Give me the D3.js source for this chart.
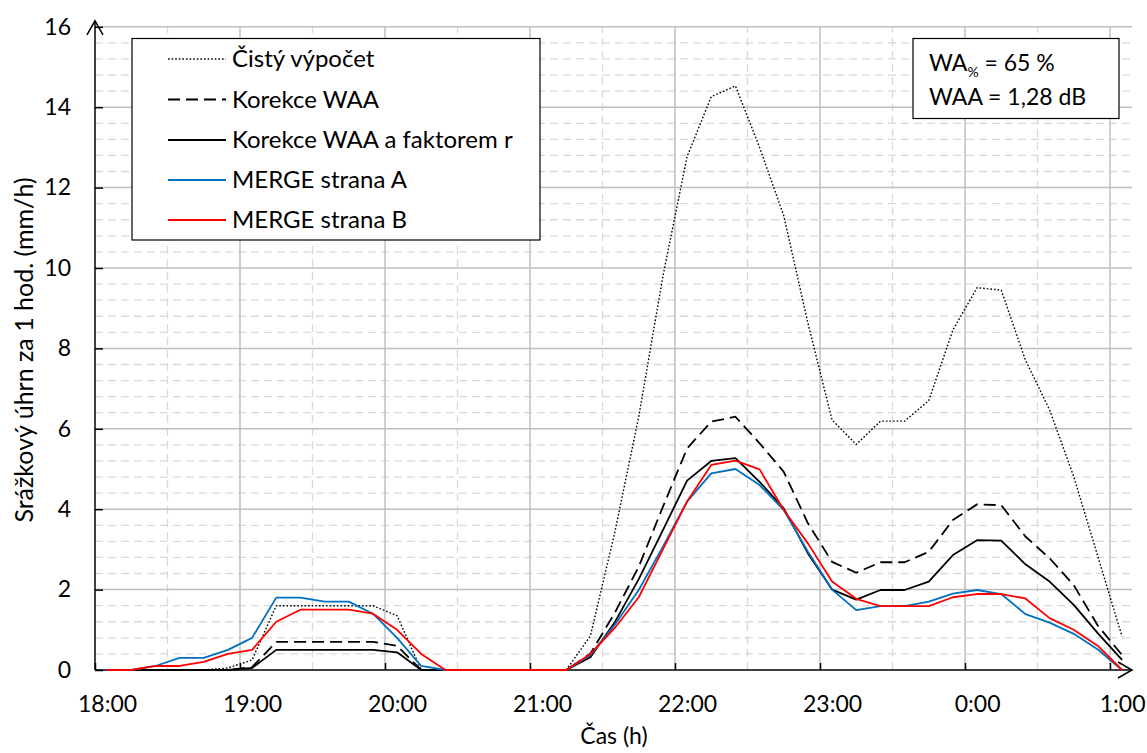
<!DOCTYPE html>
<html>
<head>
<meta charset="utf-8">
<script src="https://cdn.jsdelivr.net/npm/d3@7"></script>
<style>
  html, body { margin: 0; padding: 0; background: #fff; }
  svg { display: block; font-family: Lato, "Open Sans", sans-serif; }
</style>
</head>
<body>
<svg id="chart" width="1147" height="753"></svg>
<script>
// ---- data ----
const times = ["18:05","18:15","18:25","18:35","18:45","18:55",
  "19:05","19:15","19:25","19:35","19:45","19:55",
  "20:05","20:15","20:25","20:35","20:45","20:55",
  "21:05","21:15","21:25","21:35","21:45","21:55",
  "22:05","22:15","22:25","22:35","22:45","22:55",
  "23:05","23:15","23:25","23:35","23:45","23:55",
  "0:05","0:15","0:25","0:35","0:45","0:55","1:05"];

const cistyVypocet = [0,0,0,0,0,0.05, 0.25,1.6,1.6,1.6,1.6,1.6, 1.35,0,0,0,0,0,
  0,0,0.85,3.4,6.3,9.8, 12.77,14.26,14.53,13.0,11.3,8.63,
  6.22,5.61,6.19,6.19,6.7,8.46, 9.51,9.45,7.71,6.47,4.81,2.82,0.83];
const korekceWAA = [0,0,0,0,0,0, 0.07,0.7,0.7,0.7,0.7,0.7, 0.6,0,0,0,0,0,
  0,0,0.41,1.41,2.57,4.06, 5.51,6.18,6.30,5.64,4.93,3.65,
  2.69,2.42,2.68,2.68,2.94,3.73, 4.12,4.10,3.32,2.78,2.11,1.1,0.37];
const korekceWAAr = [0,0,0,0,0,0, 0.05,0.5,0.5,0.5,0.5,0.5, 0.44,0,0,0,0,0,
  0,0,0.32,1.18,2.26,3.48, 4.71,5.2,5.27,4.68,4.02,2.9,
  2.0,1.75,1.99,1.99,2.2,2.86, 3.23,3.22,2.63,2.2,1.62,0.91,0.25];
const mergeA = [0,0,0.1,0.3,0.3,0.5, 0.8,1.8,1.8,1.7,1.7,1.4, 0.8,0.1,0,0,0,0,
  0,0,0.37,1.12,1.99,3.07, 4.19,4.89,5.0,4.6,3.98,2.94,
  2.0,1.49,1.59,1.59,1.7,1.9, 1.99,1.89,1.39,1.18,0.9,0.51,0];
const mergeB = [0,0,0.1,0.1,0.2,0.4, 0.5,1.2,1.5,1.5,1.5,1.4, 1.0,0.4,0,0,0,0,
  0,0,0.4,1.04,1.81,3.0, 4.19,5.1,5.21,4.99,3.98,3.15,
  2.2,1.77,1.59,1.59,1.59,1.81, 1.89,1.89,1.78,1.29,1.0,0.6,0];

const seriesNames = ["Čistý výpočet","Korekce WAA","Korekce WAA a faktorem r","MERGE strana A","MERGE strana B"];
const xTickLabels = ["18:00","19:00","20:00","21:00","22:00","23:00","0:00","1:00"];
const yTickValues = [0,2,4,6,8,10,12,14,16];
const infoLines = ["WA", "WAA = 1,28 dB"];

// ---- helpers ----
function toMin(t) {
  const [h, m] = t.split(":").map(Number);
  const hh = h < 12 ? h + 24 : h;
  return (hh - 18) * 60 + m;
}

const svg = d3.select("#chart");
const X0 = 95, X1 = 1110, XR = 1132, Y0 = 670, YT = 26.8;
const x = d3.scaleLinear().domain([0, 420]).range([X0, X1]);
const y = d3.scaleLinear().domain([0, 16]).range([Y0, YT]);

// grid
const grid = svg.append("g");
const minorY = d3.range(0, 16.001, 0.4).filter(v => Math.abs(v / 2 - Math.round(v / 2)) > 1e-6);
grid.selectAll(".my").data(minorY).enter().append("line")
  .attr("x1", X0).attr("x2", XR).attr("y1", d => y(d)).attr("y2", d => y(d))
  .attr("stroke", "#d9d9d9").attr("stroke-width", 1.3).attr("stroke-dasharray", "8,5");
const halfHours = [30, 90, 150, 210, 270, 330, 390];
grid.selectAll(".mx").data(halfHours).enter().append("line")
  .attr("x1", d => x(d)).attr("x2", d => x(d)).attr("y1", Y0).attr("y2", YT)
  .attr("stroke", "#d9d9d9").attr("stroke-width", 1.3).attr("stroke-dasharray", "8,5");
grid.selectAll(".My").data(yTickValues.slice(1)).enter().append("line")
  .attr("x1", X0).attr("x2", XR).attr("y1", d => y(d)).attr("y2", d => y(d))
  .attr("stroke", "#bfbfbf").attr("stroke-width", 1.5);
const hours = xTickLabels.map((l, i) => i * 60);
grid.selectAll(".Mx").data(hours.slice(1)).enter().append("line")
  .attr("x1", d => x(d)).attr("x2", d => x(d)).attr("y1", Y0).attr("y2", YT)
  .attr("stroke", "#bfbfbf").attr("stroke-width", 1.5);

// axes
const tickFont = 23;
const xAxis = d3.axisBottom(x).tickValues(hours)
  .tickFormat((d, i) => xTickLabels[i]).tickSize(-7).tickPadding(26);
const gx = svg.append("g").attr("transform", `translate(0,${Y0})`).call(xAxis);
gx.select(".domain").remove();
gx.selectAll("line").attr("stroke", "#000").attr("stroke-width", 1.5);
gx.selectAll("text").attr("font-size", tickFont).attr("fill", "#000").attr("font-family", "Lato")
  .attr("dx", x(5) - x(0));

const yAxis = d3.axisLeft(y).tickValues(yTickValues).tickSize(-8).tickPadding(24);
const gy = svg.append("g").attr("transform", `translate(${X0},0)`).call(yAxis);
gy.select(".domain").remove();
gy.selectAll("line").attr("stroke", "#000").attr("stroke-width", 1.5);
gy.selectAll("text").attr("font-size", tickFont).attr("fill", "#000").attr("font-family", "Lato");

// axis lines with arrows
const ax = svg.append("g").attr("stroke", "#000").attr("stroke-width", 1.5).attr("fill", "none");
ax.append("line").attr("x1", X0).attr("x2", XR).attr("y1", Y0).attr("y2", Y0);
ax.append("polyline").attr("points", `${XR-14},${Y0-8} ${XR},${Y0} ${XR-14},${Y0+8}`);
ax.append("line").attr("x1", X0).attr("x2", X0).attr("y1", Y0).attr("y2", YT - 6);
ax.append("polyline").attr("points", `${X0-8},${YT+8} ${X0},${YT-6} ${X0+8},${YT+8}`);

// series
const tm = times.map(toMin);
const styles = [
  {data: cistyVypocet, color: "#000", width: 1.4, dash: "1.6,2"},
  {data: korekceWAA,   color: "#000", width: 1.8, dash: "12,6"},
  {data: korekceWAAr,  color: "#000", width: 1.8, dash: null},
  {data: mergeA,       color: "#0070C0", width: 1.8, dash: null},
  {data: mergeB,       color: "#FF0000", width: 1.8, dash: null}
];
const line = d3.line().x(d => x(d[0])).y(d => y(d[1]));
styles.forEach(s => {
  svg.append("path")
    .datum(tm.map((t, i) => [t, s.data[i]]))
    .attr("d", line).attr("fill", "none")
    .attr("stroke", s.color).attr("stroke-width", s.width)
    .attr("stroke-linejoin", "round")
    .attr("stroke-dasharray", s.dash);
});

// legend
const legFont = 24;
const lg = svg.append("g");
lg.append("rect").attr("x", 132).attr("y", 38.5).attr("width", 408).attr("height", 201.5)
  .attr("fill", "#fff").attr("stroke", "#000").attr("stroke-width", 1.2);
const legY = [59, 99.5, 140, 180, 220];
styles.forEach((s, i) => {
  lg.append("line").attr("x1", 168).attr("x2", 226).attr("y1", legY[i]).attr("y2", legY[i])
    .attr("stroke", s.color).attr("stroke-width", s.width).attr("stroke-dasharray", s.dash);
  lg.append("text").attr("x", 232).attr("y", legY[i]).attr("dy", "0.35em")
    .attr("font-size", legFont).attr("font-family", "Lato").text(seriesNames[i]);
});

// info box
const infoFont = 23;
const ib = svg.append("g");
ib.append("rect").attr("x", 913).attr("y", 38.5).attr("width", 206).attr("height", 80)
  .attr("fill", "#fff").attr("stroke", "#000").attr("stroke-width", 1.2);
const t1 = ib.append("text").attr("x", 929).attr("y", 63).attr("dy", "0.35em")
  .attr("font-size", infoFont).attr("font-family", "Lato");
t1.append("tspan").text(infoLines[0]);
t1.append("tspan").attr("font-size", 14).attr("dy", "0.45em").text("%");
t1.append("tspan").attr("dy", "-0.28em").text(" = 65 %");
ib.append("text").attr("x", 929).attr("y", 97).attr("dy", "0.35em")
  .attr("font-size", infoFont).attr("font-family", "Lato").text(infoLines[1]);

// axis titles
svg.append("text").attr("x", 614).attr("y", 736).attr("dy", "0.35em").attr("text-anchor", "middle")
  .attr("font-size", 23).attr("font-family", "Lato").text("Čas (h)");
svg.append("text").attr("transform", "translate(24,350) rotate(-90)").attr("dy", "0.35em")
  .attr("text-anchor", "middle").attr("font-size", 25).attr("font-family", "Lato")
  .text("Srážkový úhrn za 1 hod. (mm/h)");
</script>
</body>
</html>
